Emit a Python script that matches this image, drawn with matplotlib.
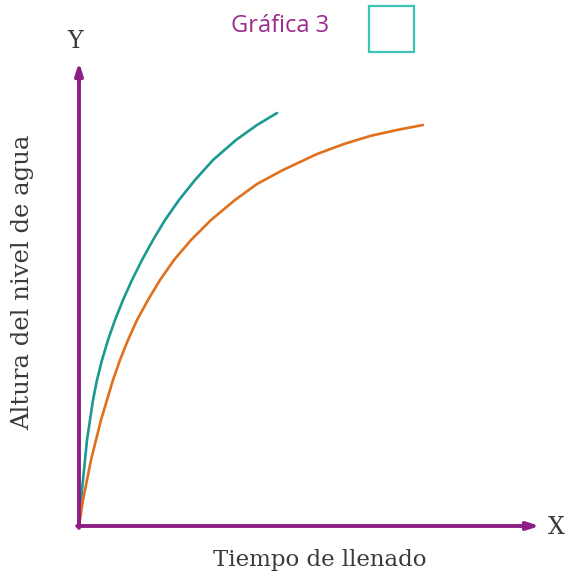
import matplotlib

matplotlib.use("Agg")

import matplotlib.pyplot as plt
from matplotlib.patches import Rectangle

# curve samples (x = time, y = water height, arbitrary units)
teal_x = [0, 2, 4, 6, 8, 11, 14, 18, 23, 29, 36, 44, 53, 63, 74, 86, 100, 116, 134, 157, 178, 198]
teal_y = [0, 26, 46, 66, 86, 106, 126, 146, 166, 186, 206, 226, 246, 266, 286, 306, 326, 346,
          366, 386, 401, 413]
orange_x = [0, 4, 8, 12, 17, 22, 28, 34, 41, 49, 58, 69, 81, 95, 112, 132, 156, 178, 204, 238,
            265, 291, 318, 344]
orange_y = [0, 26, 46, 66, 86, 106, 126, 146, 166, 186, 206, 226, 246, 266, 286, 306, 326, 342,
            356, 372, 382, 390, 396, 401]

title = "Gráfica 3"
x_label = "Tiempo de llenado"
y_label = "Altura del nivel de agua"

purple = "#8c1f84"
teal = "#1a9a90"
orange = "#e0701e"

W, H = 565, 580
fig = plt.figure(figsize=(W / 100, H / 100), dpi=100)
ax = fig.add_axes([79 / W, 54 / H, (540 - 79) / W, (526 - 62) / H])
ax.set_xlim(0, 461)
ax.set_ylim(0, 464)
ax.axis("off")

ax.plot(teal_x, teal_y, color=teal, lw=1.9, solid_capstyle="round", solid_joinstyle="round")
ax.plot(orange_x, orange_y, color=orange, lw=1.9, solid_capstyle="round", solid_joinstyle="round")

# axes drawn as arrows
arrow = dict(arrowstyle="-|>,head_length=0.7,head_width=0.22", color=purple, lw=2.8,
             shrinkA=0, shrinkB=0)
ax.annotate("", xy=(0, 1), xytext=(0, -0.004), xycoords="axes fraction", arrowprops=arrow)
ax.annotate("", xy=(1, 0), xytext=(-0.004, 0), xycoords="axes fraction", arrowprops=arrow)

serif = ["DejaVu Serif"]
ink = "#3a3a3a"
fig.text(75 / W, 1 - 42 / H, "Y", ha="center", va="center", fontsize=17, family=serif, color=ink)
fig.text(556 / W, 1 - 527 / H, "X", ha="center", va="center", fontsize=17, family=serif, color=ink)
fig.text(320 / W, 1 - 560 / H, x_label, ha="center", va="center", fontsize=16.5, family=serif,
         color=ink)
fig.text(23 / W, 1 - 282 / H, y_label, ha="center", va="center", rotation=90, fontsize=17.5,
         family=serif, color=ink)
fig.text(280 / W, 1 - 26 / H, title, ha="center", va="center", fontsize=17, family=["Open Sans"],
         fontweight="medium", color="#9a2c8e")

fig.patches.append(Rectangle((369 / W, 1 - 52 / H), 45 / W, 46 / H, transform=fig.transFigure,
                             fill=False, edgecolor="#3cc4b6", lw=1.6))

fig.savefig("out.png", dpi=100)
plt.close(fig)
